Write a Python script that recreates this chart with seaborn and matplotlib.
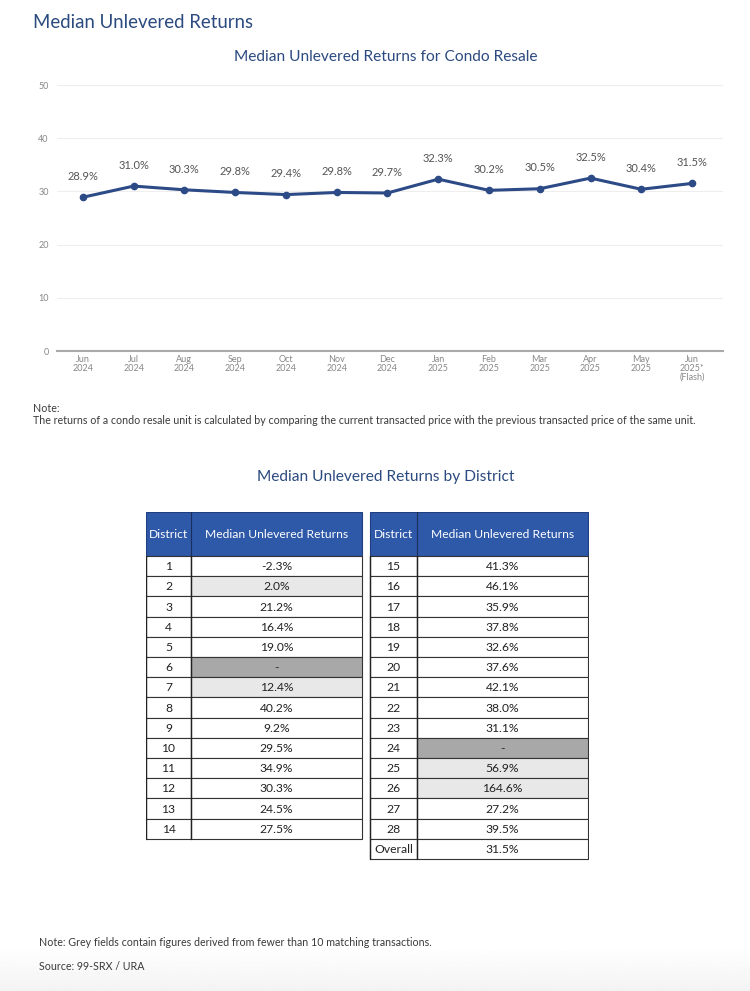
import matplotlib
matplotlib.use("Agg")
import matplotlib.pyplot as plt
import seaborn as sns
import pandas as pd
import numpy as np
from matplotlib.patches import Rectangle

# ---------------- data ----------------
months = ["Jun\n2024", "Jul\n2024", "Aug\n2024", "Sep\n2024", "Oct\n2024", "Nov\n2024",
          "Dec\n2024", "Jan\n2025", "Feb\n2025", "Mar\n2025", "Apr\n2025", "May\n2025",
          "Jun\n2025*\n(Flash)"]
returns = [28.9, 31.0, 30.3, 29.8, 29.4, 29.8, 29.7, 32.3, 30.2, 30.5, 32.5, 30.4, 31.5]
y_ticks = [0, 10, 20, 30, 40, 50]

left_districts = ["1", "2", "3", "4", "5", "6", "7", "8", "9", "10", "11", "12", "13", "14"]
left_values = ["-2.3%", "2.0%", "21.2%", "16.4%", "19.0%", "-", "12.4%", "40.2%", "9.2%",
               "29.5%", "34.9%", "30.3%", "24.5%", "27.5%"]
left_shade = ["", "light", "", "", "", "dark", "light", "", "", "", "", "", "", ""]

right_districts = ["15", "16", "17", "18", "19", "20", "21", "22", "23", "24", "25", "26",
                   "27", "28", "Overall"]
right_values = ["41.3%", "46.1%", "35.9%", "37.8%", "32.6%", "37.6%", "42.1%", "38.0%",
                "31.1%", "-", "56.9%", "164.6%", "27.2%", "39.5%", "31.5%"]
right_shade = ["", "", "", "", "", "", "", "", "", "dark", "light", "light", "", "", ""]

header_cols = ["District", "Median Unlevered Returns"]

# ---------------- style ----------------
sns.set_theme(style="white")
plt.rcParams["font.family"] = ["Lato", "DejaVu Sans"]

NAVY = "#2c4a86"
TITLE = "#2b4a7f"
HEADER = "#2e58a8"
LIGHT = "#e8e8e8"
DARK = "#a8a8a8"

W, H = 750, 991
fig = plt.figure(figsize=(W / 100, H / 100), dpi=100)
fig.patch.set_facecolor("white")

def fy(py):
    return 1 - py / H

# bottom faint gradient
grad_ax = fig.add_axes([0, 0, 1, fy(945)])
grad_ax.imshow(np.linspace(1.0, 0.955, 50).reshape(-1, 1), aspect="auto", cmap="gray",
               vmin=0, vmax=1, extent=[0, 1, 0, 1], origin="upper")
grad_ax.axis("off")

fig.text(33 / W, fy(23), "Median Unlevered Returns", fontsize=13.4, color=TITLE,
         ha="left", va="center")
fig.text(386 / W, fy(57), "Median Unlevered Returns for Condo Resale", fontsize=11.2,
         color=TITLE, ha="center", va="center")

# ---------------- line chart ----------------
ax = fig.add_axes([57 / W, fy(351), (723 - 57) / W, (351 - 85) / H])
df = pd.DataFrame({"month": months, "ret": returns, "idx": range(len(months))})
sns.lineplot(data=df, x="idx", y="ret", ax=ax, color=NAVY, linewidth=2.2,
             marker="o", markersize=5.5, markeredgewidth=0, zorder=3)
for i, v in enumerate(returns):
    ax.annotate(f"{v:.1f}%", (i, v), xytext=(0, 11), textcoords="offset points",
                ha="center", va="bottom", fontsize=8, color="#555555")
ax.set_xlim(-0.51, 12.61)
ax.set_ylim(0, 50)
ax.set_yticks(y_ticks)
ax.set_yticklabels([str(t) for t in y_ticks], fontsize=6.5, color="#888888")
ax.set_xticks(range(len(months)))
ax.set_xticklabels(months, fontsize=6.5, color="#888888", linespacing=0.95)
ax.tick_params(axis="both", length=0, pad=3)
ax.tick_params(axis="y", pad=6)
ax.grid(axis="y", color="#eeeeee", linewidth=0.8)
ax.set_xlabel("")
ax.set_ylabel("")
for s in ["top", "right", "left"]:
    ax.spines[s].set_visible(False)
ax.spines["bottom"].set_color("#aaaaaa")
ax.spines["bottom"].set_linewidth(1.5)
ax.set_facecolor("none")

fig.text(33 / W, fy(408), "Note:", fontsize=7.7, color="#3a3a3a", ha="left", va="center")
fig.text(33 / W, fy(421),
         "The returns of a condo resale unit is calculated by comparing the current transacted "
         "price with the previous transacted price of the same unit.",
         fontsize=7.7, color="#3a3a3a", ha="left", va="center")

fig.text(386 / W, fy(477), "Median Unlevered Returns by District", fontsize=11.2,
         color=TITLE, ha="center", va="center")

# ---------------- tables ----------------
tx0, tx1, ty0, ty1 = 146, 589, 512, 861
tax = fig.add_axes([tx0 / W, fy(ty1), (tx1 - tx0) / W, (ty1 - ty0) / H])
tax.set_xlim(tx0, tx1)
tax.set_ylim(ty1, ty0)
tax.axis("off")

HDR_H = 44.0
ROW_H = 20.2
shade_color = {"": "white", "light": LIGHT, "dark": DARK}

def draw_table(x0, xsplit, x1, districts, values, shades):
    y = ty0
    tax.add_patch(Rectangle((x0, y), x1 - x0, HDR_H, facecolor=HEADER, edgecolor="#1f3f80",
                            linewidth=0.8))
    tax.plot([xsplit, xsplit], [y, y + HDR_H], color="#1c2f5c", linewidth=0.8)
    tax.text((x0 + xsplit) / 2, y + HDR_H / 2, header_cols[0], color="white",
             fontsize=8.7, ha="center", va="center")
    tax.text((xsplit + x1) / 2, y + HDR_H / 2, header_cols[1], color="white",
             fontsize=8.7, ha="center", va="center")
    y += HDR_H
    for d, v, s in zip(districts, values, shades):
        tax.add_patch(Rectangle((x0, y), xsplit - x0, ROW_H, facecolor="white",
                                edgecolor="#333333", linewidth=0.8))
        tax.add_patch(Rectangle((xsplit, y), x1 - xsplit, ROW_H, facecolor=shade_color[s],
                                edgecolor="#333333", linewidth=0.8))
        tax.text((x0 + xsplit) / 2, y + ROW_H / 2 + 0.5, d, color="#222222", fontsize=8.7,
                 ha="center", va="center")
        tax.text((xsplit + x1) / 2, y + ROW_H / 2 + 0.5, v, color="#222222", fontsize=8.7,
                 ha="center", va="center")
        y += ROW_H
    tax.plot([x0, x0], [ty0 + HDR_H, y], color="#222222", linewidth=1.0)
    tax.plot([xsplit, xsplit], [ty0 + HDR_H, y], color="#222222", linewidth=1.0)

draw_table(146, 191, 362, left_districts, left_values, left_shade)
draw_table(370, 417, 588, right_districts, right_values, right_shade)

fig.text(39 / W, fy(942), "Note: Grey fields contain figures derived from fewer than 10 "
         "matching transactions.", fontsize=7.7, color="#3a3a3a", ha="left", va="center")
fig.text(39 / W, fy(967), "Source: 99-SRX / URA", fontsize=7.7, color="#3a3a3a",
         ha="left", va="center")

fig.savefig("out.png", dpi=100)
